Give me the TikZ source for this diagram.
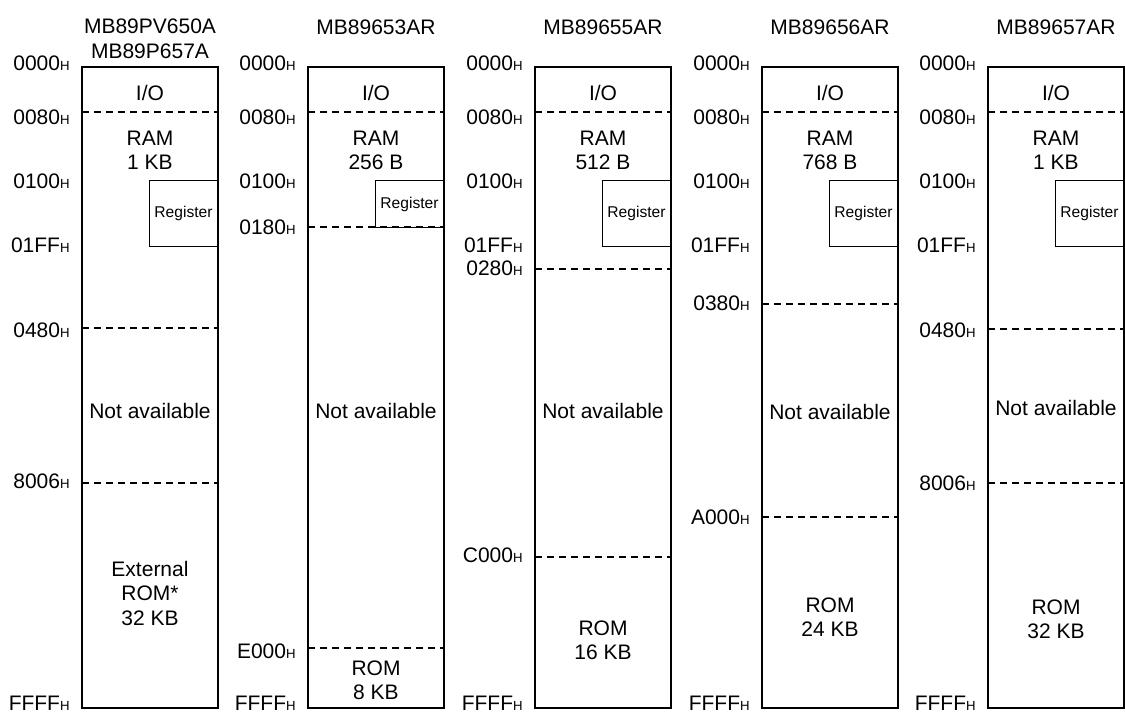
\documentclass[tikz,border=0pt]{standalone}
\usepackage{fontspec}
\setmainfont{Liberation Sans}

\newcommand{\hx}[1]{#1{\fontsize{6.6}{6.6}\selectfont H}}

\begin{document}
\begin{tikzpicture}[x=0.5pt, y=-0.5pt,
		font=\fontsize{10.5}{12.25}\selectfont,
		membox/.style={line width=1.25pt},
		sep/.style={line width=0.6pt, dash pattern=on 3.5pt off 2.5pt},
		regbox/.style={draw, line width=0.5pt, inner sep=0pt, anchor=north east,
			minimum width=34pt, font=\fontsize{7.8}{9}\selectfont},
		addr/.style={anchor=east, inner sep=0pt},
		area/.style={align=center, inner sep=0pt}]
		\useasboundingbox (0,0) rectangle (1125,712);
		% common part of every map
		\foreach \c/\l in {1/82, 2/308, 3/535, 4/762, 5/988} {
			\draw[membox] (\l,67) rectangle ++(136,641);
			\draw[sep] (\l,112) -- ++(136,0);
			\node[area] (io\c) at (\l+68,93) {I/O};
			\node[addr] (a0000-\c) at (\l-12,63) {\hx{0000}};
			\node[addr] (a0080-\c) at (\l-12,117) {\hx{0080}};
			\node[addr] (a0100-\c) at (\l-12,181) {\hx{0100}};
			\node[addr] (affff-\c) at (\l-12,703) {\hx{FFFF}};
		}
		% MB89PV650A / MB89P657A
		\node[area] (t1) at (150,39) {MB89PV650A\\MB89P657A};
		\node[area] (ram1) at (150,150.5) {RAM\\1 KB};
		\node[regbox, minimum height=33pt] (reg1) at (218,180) {Register};
		\node[addr] (a01ff-1) at (70,245) {\hx{01FF}};
		\draw[sep] (82,328) -- ++(136,0);
		\node[addr] (a0480-1) at (70,330) {\hx{0480}};
		\node[area] (na1) at (150,411) {Not available};
		\draw[sep] (82,483) -- ++(136,0);
		\node[addr] (a8006-1) at (70,481) {\hx{8006}};
		\node[area] (rom1) at (150,593) {External\\ROM*\\32 KB};
		% MB89653AR
		\node[area] (t2) at (376,27) {MB89653AR};
		\node[area] (ram2) at (376,150.5) {RAM\\256 B};
		\node[regbox, minimum height=23.5pt] (reg2) at (444,180) {Register};
		\draw[sep] (308,227) -- ++(136,0);
		\node[addr] (a0180-2) at (296,227) {\hx{0180}};
		\node[area] (na2) at (376,411) {Not available};
		\draw[sep] (308,648) -- ++(136,0);
		\node[addr] (ae000-2) at (296,651) {\hx{E000}};
		\node[area] (rom2) at (376,680.5) {ROM\\8 KB};
		% MB89655AR
		\node[area] (t3) at (603,27) {MB89655AR};
		\node[area] (ram3) at (603,150.5) {RAM\\512 B};
		\node[regbox, minimum height=33pt] (reg3) at (671,180) {Register};
		\node[addr] (a01ff-3) at (523,245) {\hx{01FF}};
		\draw[sep] (535,269) -- ++(136,0);
		\node[addr] (a0280-3) at (523,268) {\hx{0280}};
		\node[area] (na3) at (603,411) {Not available};
		\draw[sep] (535,557) -- ++(136,0);
		\node[addr] (ac000-3) at (523,555) {\hx{C000}};
		\node[area] (rom3) at (603,640.5) {ROM\\16 KB};
		% MB89656AR
		\node[area] (t4) at (830,27) {MB89656AR};
		\node[area] (ram4) at (830,150.5) {RAM\\768 B};
		\node[regbox, minimum height=33pt] (reg4) at (898,180) {Register};
		\node[addr] (a01ff-4) at (750,245) {\hx{01FF}};
		\draw[sep] (762,304) -- ++(136,0);
		\node[addr] (a0380-4) at (750,303) {\hx{0380}};
		\node[area] (na4) at (830,412) {Not available};
		\draw[sep] (762,517) -- ++(136,0);
		\node[addr] (aa000-4) at (750,517) {\hx{A000}};
		\node[area] (rom4) at (830,617) {ROM\\24 KB};
		% MB89657AR
		\node[area] (t5) at (1056,27) {MB89657AR};
		\node[area] (ram5) at (1056,150.5) {RAM\\1 KB};
		\node[regbox, minimum height=33pt] (reg5) at (1124,180) {Register};
		\node[addr] (a01ff-5) at (976,245) {\hx{01FF}};
		\draw[sep] (988,329) -- ++(136,0);
		\node[addr] (a0480-5) at (976,330) {\hx{0480}};
		\node[area] (na5) at (1056,408) {Not available};
		\draw[sep] (988,483) -- ++(136,0);
		\node[addr] (a8006-5) at (976,483) {\hx{8006}};
		\node[area] (rom5) at (1056,619.5) {ROM\\32 KB};
	\end{tikzpicture}
\end{document}
